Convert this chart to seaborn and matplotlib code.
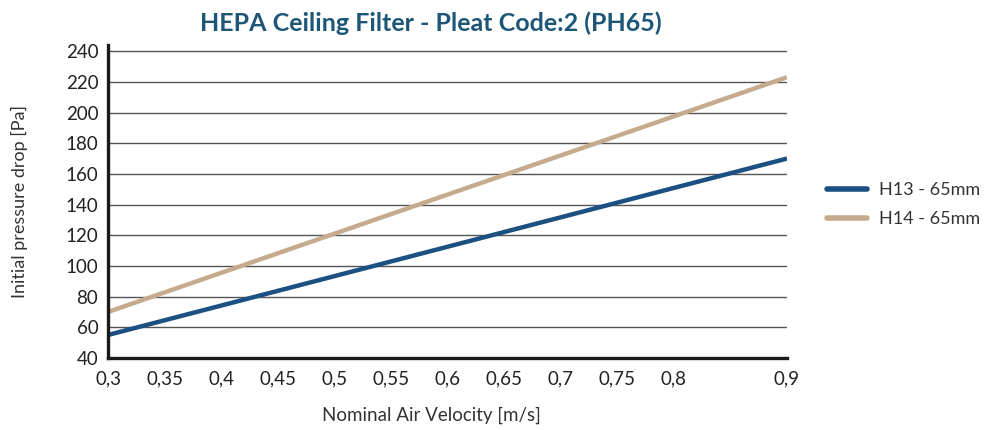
import pandas as pd
import matplotlib.pyplot as plt
import seaborn as sns

# values
velocity = [0.3, 0.9]
h13 = [55, 170]
h14 = [70, 223]
series_names = ['H13 - 65mm', 'H14 - 65mm']
x_ticks = [0.3, 0.35, 0.4, 0.45, 0.5, 0.55, 0.6, 0.65, 0.7, 0.75, 0.8, 0.9]
y_ticks = list(range(40, 241, 20))

df = pd.DataFrame({
    'velocity': velocity * 2,
    'drop': h13 + h14,
    'serie': [series_names[0]] * len(velocity) + [series_names[1]] * len(velocity),
})

sns.set_theme(style='white')
plt.rcParams['font.family'] = ['Lato', 'DejaVu Sans']

fig = plt.figure(figsize=(9.93, 4.30), dpi=100)
ax = fig.add_axes([108 / 993, 72 / 430, 679 / 993, 313 / 430])

for y in y_ticks[1:]:
    ax.axhline(y, color='#555555', lw=1.0, zorder=0)

sns.lineplot(data=df, x='velocity', y='drop', hue='serie',
             palette=['#1b5083', '#c6aa8d'], lw=3.2, ax=ax,
             solid_capstyle='butt')

ax.set_xlim(0.3, 0.9)
ax.set_ylim(40, 244)
ax.set_xticks(x_ticks)
ax.set_xticklabels([str(v).replace('.', ',') for v in x_ticks])
ax.set_yticks(y_ticks)
ax.tick_params(axis='both', labelsize=13.5, colors='#222222', length=0)
ax.tick_params(axis='x', pad=9)
ax.tick_params(axis='y', pad=7)

for side in ['top', 'right']:
    ax.spines[side].set_visible(False)
for side in ['left', 'bottom']:
    ax.spines[side].set_color('#1a1a1a')
    ax.spines[side].set_linewidth(2.4)

ax.set_xlabel('Nominal Air Velocity [m/s]', fontsize=13.5, color='#333333', labelpad=14)
ax.xaxis.label.set_x(0.477)
ax.set_ylabel('Initial pressure drop [Pa]', fontsize=13, color='#333333', labelpad=27)
ax.set_title('HEPA Ceiling Filter - Pleat Code:2 (PH65)', fontsize=18,
             fontweight='bold', color='#1d5677', pad=10, x=0.476)

leg = ax.legend(loc='center left', bbox_to_anchor=(1.035, 0.49), frameon=False,
                fontsize=13, handlelength=2.2, handletextpad=0.7,
                labelspacing=0.7, title=None)
for line in leg.get_lines():
    line.set_linewidth(4)
    line.set_solid_capstyle('round')
for t in leg.get_texts():
    t.set_color('#333333')

fig.savefig('out.png', dpi=100)
